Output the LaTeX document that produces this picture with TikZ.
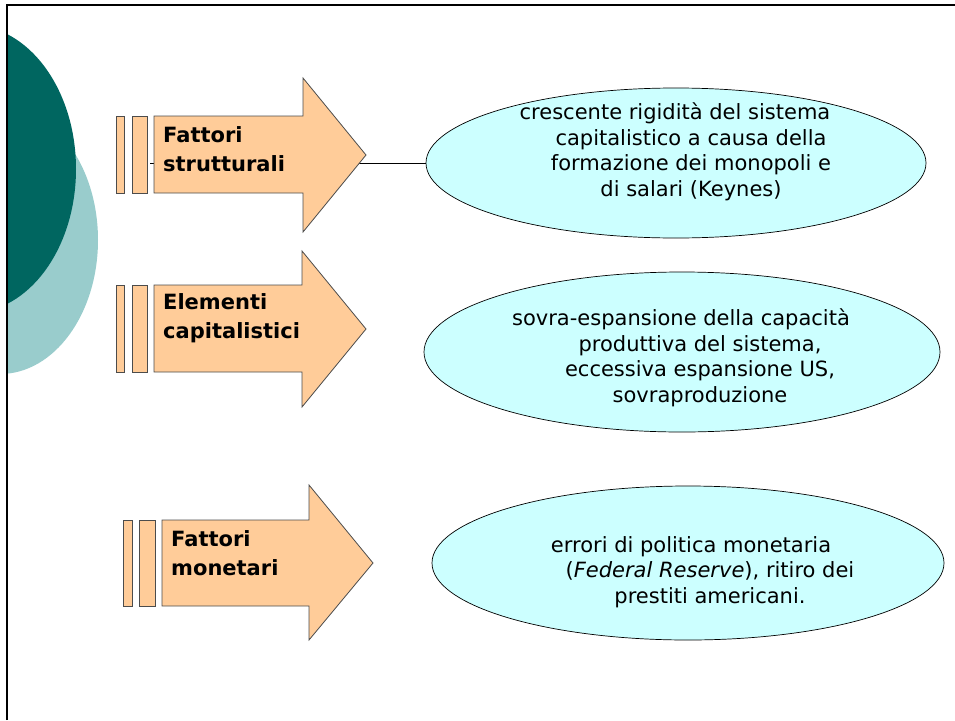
\documentclass[tikz,border=0pt]{standalone}
\usepackage{fontspec}
\setmainfont{DejaVu Sans}
\usetikzlibrary{shapes.geometric}

\definecolor{peach}{HTML}{FFCC99}
\definecolor{paleblue}{HTML}{CCFFFF}
\definecolor{darkteal}{HTML}{006660}
\definecolor{lightteal}{HTML}{99CCCC}

\begin{document}
\begin{tikzpicture}[x=1pt, y=-1pt,
	causebox/.style={fill=peach, draw=black!70, line width=0.8pt},
	causetext/.style={anchor=west, inner sep=0pt, align=left,
		font=\fontsize{21}{29}\selectfont\bfseries},
	effectbox/.style={draw, ellipse, fill=paleblue, line width=0.7pt,
		inner sep=0pt},
	effecttext/.style={inner sep=0pt, align=center,
		font=\fontsize{21}{25.5}\selectfont}]
	\useasboundingbox (0,0) rectangle (955,720);

	% background discs
	\begin{scope}
		\clip (8,0) rectangle (955,720);
		\fill[lightteal] (0,240) ellipse (98pt and 134pt);
		\fill[darkteal] (-30,169) ellipse (106pt and 144pt);
	\end{scope}
	\draw[line width=2.5pt] (7,720) -- (7,5) -- (955,5);

	% effects
	\node[effectbox, minimum width=500pt, minimum height=150pt]
		(effA) at (676,163) {};
	\node[effectbox, minimum width=516pt, minimum height=160pt]
		(effB) at (682,352) {};
	\node[effectbox, minimum width=512pt, minimum height=154pt]
		(effC) at (688,563) {};

	\node[effecttext] (txtA) at (691,152)
		{crescente rigidità del sistema\hspace*{32pt}\\
		 capitalistico a causa della\\
		 formazione dei monopoli e\\
		 di salari (Keynes)};
	\node[effecttext] (txtB) at (700,358)
		{sovra-espansione della capacità\hspace*{38pt}\\
		 produttiva del sistema,\\
		 eccessiva espansione US,\\
		 sovraproduzione};
	\node[effecttext] (txtC) at (710,572)
		{errori di politica monetaria\hspace*{38pt}\\
		 (\textit{Federal Reserve}), ritiro dei\\
		 prestiti americani.};

	\coordinate (tailA) at (150,163);
	\draw[line width=0.8pt] (tailA) -- (effA.west);

	% causes
	\draw[causebox] (116,116) rectangle (124,193);
	\draw[causebox] (132,116) rectangle (147,193);
	\draw[causebox] (154,116) -- (303,116) -- (303,78) -- (366,155)
		-- (303,232) -- (303,193) -- (154,193) -- cycle;
	\node[causetext] (causeA) at (163,149) {Fattori\\strutturali};

	\draw[causebox] (116,285) rectangle (124,372);
	\draw[causebox] (132,285) rectangle (147,372);
	\draw[causebox] (154,285) -- (302,285) -- (302,251) -- (366,329)
		-- (302,407) -- (302,372) -- (154,372) -- cycle;
	\node[causetext] (causeB) at (163,318) {Elementi\\capitalistici};

	\draw[causebox] (123,520) rectangle (132,606);
	\draw[causebox] (139,520) rectangle (155,606);
	\draw[causebox] (162,520) -- (309,520) -- (309,485) -- (373,563)
		-- (309,640) -- (309,606) -- (162,606) -- cycle;
	\node[causetext] (causeC) at (171,553) {Fattori\\monetari};
\end{tikzpicture}
\end{document}
